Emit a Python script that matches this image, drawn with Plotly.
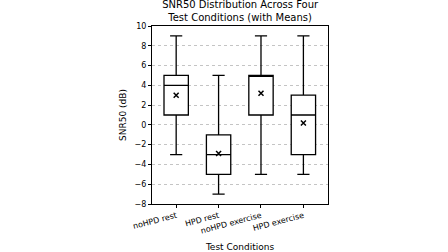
import plotly.graph_objects as go

categories = ["noHPD rest", "HPD rest", "noHPD exercise", "HPD exercise"]
lower_whisker = [-3, -7, -5, -5]
q1 = [1, -5, 1, -3]
median = [4, -3, 5, 1]
q3 = [5, -1, 5, 3]
upper_whisker = [9, 5, 9, 9]
means = [3.0, -2.9, 3.2, 0.2]

fig = go.Figure()
fig.add_trace(go.Box(
    x=categories, q1=q1, median=median, q3=q3,
    lowerfence=lower_whisker, upperfence=upper_whisker,
    fillcolor="white", line=dict(color="black", width=1.3),
    whiskerwidth=0.5, boxpoints=False, showlegend=False, hoverinfo="skip",
))
fig.add_trace(go.Scatter(
    x=categories, y=means, mode="markers",
    marker=dict(symbol="x-thin", size=5, line=dict(color="black", width=1.5)),
    showlegend=False,
))

fig.update_layout(
    width=448, height=252,
    margin=dict(l=152, r=120, t=26, b=48),
    paper_bgcolor="white", plot_bgcolor="white",
    font=dict(family="DejaVu Sans", color="black", size=8),
    boxgap=0.18,
    title=dict(text="SNR50 Distribution Across Four<br>Test Conditions (with Means)",
               x=0.536, xanchor="center", yref="container", y=0.968, yanchor="middle",
               font=dict(size=10)),
)
fig.update_xaxes(
    type="category", range=[-0.57, 3.58], automargin=False,
    showline=True, linecolor="black", linewidth=1, mirror=True,
    ticks="outside", ticklen=3, tickcolor="black", tickangle=-15,
    showgrid=False, tickfont=dict(size=8),
    title=dict(text="Test Conditions", font=dict(size=9), standoff=10),
)
fig.update_yaxes(
    range=[-8, 10], dtick=2, automargin=False,
    showline=True, linecolor="black", linewidth=1, mirror=True,
    ticks="outside", ticklen=3, tickcolor="black",
    showgrid=True, gridcolor="#c4c4c4", griddash="dot", gridwidth=0.7,
    zeroline=False,
    title=dict(text="SNR50 (dB)", font=dict(size=9), standoff=6),
)

fig.write_html("out.html", config={"displayModeBar": False},
               post_script="document.body.style.margin='0';")
